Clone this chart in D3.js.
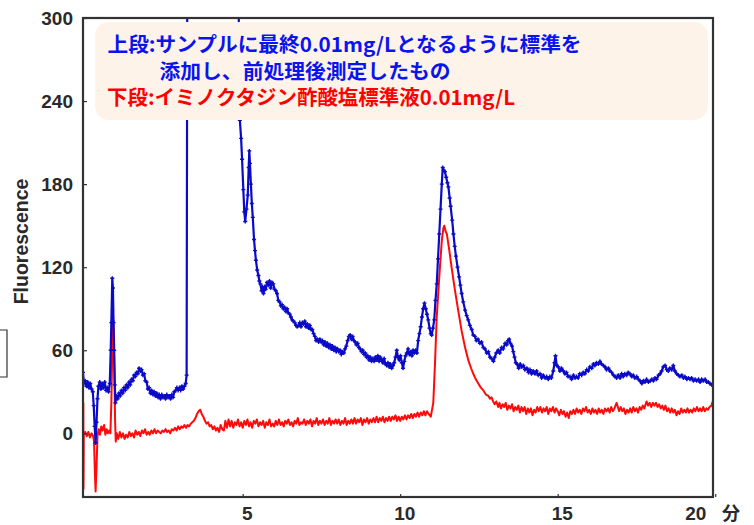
<!DOCTYPE html>
<html>
<head>
<meta charset="utf-8">
<script src="https://cdn.jsdelivr.net/npm/d3@7"></script>
<style>
  html, body { margin: 0; padding: 0; background: #fff; }
  svg { display: block; }
</style>
</head>
<body>
<svg id="chart" width="754" height="525"></svg>
<script>
// ---------------- data ----------------
const yTicks = [0, 60, 120, 180, 240, 300];
const xTicks = [5, 10, 15, 20];
const yTitle = "Fluorescence";
const xUnit = "分";
const legendLines = [
  { text: "上段:サンプルに最終0.01mg/Lとなるように標準を", series: "blue" },
  { text: "添加し、前処理後測定したもの", series: "blue" },
  { text: "下段:イミノクタジン酢酸塩標準液0.01mg/L", series: "red" }
];

// upper trace: spiked sample (time [min], fluorescence)
const blueTrace = [
  [-0.07,44],[-0.04,36],[0.0,38],[0.04,34],[0.08,37],[0.12,33],[0.16,36],[0.2,32],[0.24,30],[0.27,20],
  [0.3,5],[0.33,-7],[0.36,8],[0.39,25],[0.42,34],[0.46,37],[0.5,32],[0.54,36],[0.58,33],[0.62,37],
  [0.66,31],[0.7,33],[0.74,30],[0.78,36],[0.81,60],[0.83,80],[0.86,112],[0.88,105],[0.9,80],[0.92,60],
  [0.94,35],[0.96,22],[0.99,27],[1.03,25],[1.07,29],[1.11,27],[1.15,31],[1.19,29],[1.23,33],[1.27,31],
  [1.31,35],[1.35,33],[1.39,37],[1.43,35],[1.47,39],[1.51,38],[1.55,42],[1.59,41],[1.63,44],[1.67,43],
  [1.71,47],[1.75,45],[1.79,46],[1.83,42],[1.87,43],[1.91,38],[1.95,37],[1.99,32],[2.03,33],[2.07,29],
  [2.11,31],[2.15,28],[2.19,30],[2.23,27],[2.27,29],[2.31,26],[2.35,28],[2.39,25],[2.43,28],[2.47,26],
  [2.51,27],[2.55,25],[2.59,28],[2.63,26],[2.67,27],[2.71,25],[2.75,28],[2.79,26],[2.83,30],[2.87,31],
  [2.91,33],[2.95,31],[2.99,33],[3.03,31],[3.07,34],[3.11,32],[3.15,34],[3.19,36],[3.22,42],[3.24,330],
  [4.86,330],[4.91,226],[4.95,213],[4.98,198],[5.02,176],[5.05,160],[5.08,153],[5.12,162],[5.16,172],[5.19,192],
  [5.21,204],[5.23,195],[5.26,180],[5.29,166],[5.32,156],[5.36,140],[5.39,132],[5.42,125],[5.46,118],[5.5,114],
  [5.53,110],[5.56,108],[5.6,103],[5.63,106],[5.66,101],[5.7,106],[5.73,104],[5.77,109],[5.81,107],[5.85,110],
  [5.89,105],[5.93,109],[5.97,108],[6.01,104],[6.05,103],[6.09,101],[6.13,96],[6.17,95],[6.21,92],[6.25,93],
  [6.29,90],[6.33,91],[6.37,88],[6.41,90],[6.45,87],[6.49,86],[6.53,84],[6.57,82],[6.61,81],[6.65,80],
  [6.69,78],[6.73,77],[6.77,78],[6.81,80],[6.85,77],[6.89,80],[6.93,79],[6.97,81],[7.01,77],[7.05,79],
  [7.09,76],[7.13,78],[7.17,75],[7.21,75],[7.25,72],[7.29,70],[7.33,67],[7.37,68],[7.41,66],[7.45,68],
  [7.49,66],[7.53,67],[7.57,64],[7.61,66],[7.65,63],[7.69,65],[7.73,62],[7.77,64],[7.81,61],[7.85,63],
  [7.89,60],[7.93,62],[7.97,59],[8.01,61],[8.05,59],[8.09,60],[8.13,57],[8.17,59],[8.21,58],[8.25,61],
  [8.29,63],[8.33,67],[8.37,70],[8.41,71],[8.45,68],[8.49,70],[8.53,67],[8.57,66],[8.61,64],[8.65,65],
  [8.69,62],[8.73,61],[8.77,59],[8.81,60],[8.85,57],[8.89,58],[8.93,55],[8.97,56],[9.01,53],[9.05,55],
  [9.09,52],[9.13,54],[9.17,52],[9.21,55],[9.25,53],[9.29,56],[9.33,52],[9.37,55],[9.41,53],[9.45,51],
  [9.49,54],[9.53,50],[9.57,49],[9.61,51],[9.65,48],[9.69,50],[9.73,47],[9.77,49],[9.81,51],[9.85,55],
  [9.89,60],[9.93,55],[9.97,53],[10.01,56],[10.05,51],[10.09,47],[10.13,52],[10.17,56],[10.21,58],[10.25,61],
  [10.29,57],[10.33,59],[10.37,56],[10.41,60],[10.45,58],[10.49,60],[10.53,58],[10.57,67],[10.61,72],[10.65,77],
  [10.69,84],[10.73,90],[10.77,94],[10.81,90],[10.85,86],[10.89,82],[10.93,76],[10.97,72],[11.0,71],[11.04,76],
  [11.08,82],[11.12,96],[11.16,108],[11.2,126],[11.24,144],[11.28,162],[11.32,180],[11.35,192],[11.38,190],[11.42,189],
  [11.46,185],[11.5,181],[11.53,178],[11.57,170],[11.6,164],[11.65,154],[11.69,144],[11.73,135],[11.77,128],[11.82,120],
  [11.87,113],[11.91,107],[11.95,101],[12.0,95],[12.06,89],[12.11,85],[12.16,82],[12.21,78],[12.27,75],[12.32,71],
  [12.37,70],[12.42,67],[12.47,68],[12.53,65],[12.58,66],[12.64,62],[12.69,61],[12.75,58],[12.8,59],[12.85,55],
  [12.9,54],[12.96,52],[13.0,55],[13.05,58],[13.11,60],[13.16,58],[13.22,62],[13.27,61],[13.33,65],[13.38,64],
  [13.42,67],[13.46,68],[13.5,65],[13.55,63],[13.59,59],[13.63,55],[13.67,51],[13.71,50],[13.76,47],[13.81,50],
  [13.86,48],[13.91,49],[13.96,46],[14.02,47],[14.07,44],[14.12,46],[14.17,43],[14.22,45],[14.28,43],[14.33,45],
  [14.38,42],[14.44,43],[14.49,40],[14.54,42],[14.6,40],[14.65,41],[14.7,39],[14.75,41],[14.8,40],[14.86,45],
  [14.9,51],[14.93,56],[14.97,49],[15.02,48],[15.07,45],[15.12,47],[15.18,45],[15.23,43],[15.28,44],[15.33,41],
  [15.39,41],[15.44,39],[15.5,42],[15.55,40],[15.6,41],[15.65,40],[15.7,43],[15.76,42],[15.81,44],[15.86,43],
  [15.92,46],[15.97,45],[16.02,48],[16.08,47],[16.13,50],[16.18,49],[16.23,51],[16.29,50],[16.34,52],[16.39,50],
  [16.45,49],[16.5,48],[16.55,46],[16.61,47],[16.66,45],[16.71,44],[16.77,42],[16.82,41],[16.87,40],[16.92,42],
  [16.98,40],[17.03,43],[17.08,41],[17.13,43],[17.19,42],[17.24,44],[17.29,43],[17.35,41],[17.4,42],[17.45,40],
  [17.51,41],[17.56,39],[17.61,38],[17.67,36],[17.72,38],[17.77,37],[17.82,39],[17.88,37],[17.94,38],[17.99,39],
  [18.04,38],[18.09,40],[18.14,39],[18.2,42],[18.25,43],[18.3,45],[18.35,48],[18.41,49],[18.46,46],[18.51,45],
  [18.56,47],[18.62,46],[18.67,49],[18.72,45],[18.78,43],[18.83,42],[18.88,41],[18.94,42],[18.99,40],[19.04,41],
  [19.1,39],[19.15,40],[19.2,39],[19.25,40],[19.31,38],[19.36,39],[19.41,38],[19.47,39],[19.52,37],[19.57,39],
  [19.62,38],[19.68,39],[19.73,37],[19.78,37],[19.83,36],[19.89,35]
];

// lower trace: standard solution (time [min], fluorescence)
const redTrace = [
  [-0.06,22],[-0.055,-40],[-0.045,-1],[0.0,1],[0.05,-2],[0.1,1],[0.15,-3],[0.2,0],[0.25,-2],[0.28,-6],
  [0.31,-30],[0.33,-42],[0.36,-24],[0.39,-2],[0.43,3],[0.47,-1],[0.51,5],[0.55,2],[0.6,6],[0.64,-1],
  [0.68,3],[0.72,0],[0.76,2],[0.8,0],[0.83,22],[0.86,62],[0.89,82],[0.92,52],[0.95,8],[0.97,-6],
  [1.0,0],[1.05,-4],[1.1,1],[1.15,-3],[1.2,0],[1.25,-4],[1.3,-1],[1.35,-3],[1.4,1],[1.45,-2],
  [1.5,0],[1.55,-3],[1.6,2],[1.65,-1],[1.7,1],[1.75,-2],[1.8,2],[1.85,0],[1.9,3],[1.95,-1],
  [2.0,1],[2.05,-1],[2.1,2],[2.15,0],[2.2,3],[2.25,0],[2.3,2],[2.35,1],[2.4,0],[2.45,2],
  [2.5,1],[2.55,3],[2.6,1],[2.65,2],[2.7,0],[2.75,3],[2.8,2],[2.85,4],[2.9,2],[2.95,5],
  [3.0,3],[3.05,5],[3.1,4],[3.15,6],[3.2,4],[3.25,6],[3.3,5],[3.35,7],[3.4,8],[3.45,9],
  [3.5,11],[3.55,14],[3.6,16],[3.65,17],[3.7,14],[3.75,12],[3.8,9],[3.85,7],[3.9,8],[3.95,5],
  [4.0,6],[4.05,3],[4.1,5],[4.15,2],[4.2,4],[4.25,1],[4.3,6],[4.35,3],[4.4,2],[4.45,9],
  [4.5,4],[4.55,10],[4.6,5],[4.65,9],[4.7,4],[4.75,8],[4.8,6],[4.85,10],[4.9,5],[4.95,8],
  [5.0,4],[5.05,9],[5.1,6],[5.15,10],[5.2,5],[5.25,8],[5.3,4],[5.35,9],[5.4,7],[5.45,10],
  [5.5,5],[5.55,8],[5.6,6],[5.65,9],[5.7,4],[5.75,8],[5.8,6],[5.85,10],[5.9,5],[5.95,7],
  [6.0,5],[6.05,9],[6.1,6],[6.15,10],[6.2,6],[6.25,8],[6.3,5],[6.35,9],[6.4,7],[6.45,10],
  [6.5,6],[6.55,8],[6.6,5],[6.65,9],[6.7,7],[6.75,11],[6.8,6],[6.85,8],[6.9,7],[6.95,10],
  [7.0,6],[7.05,9],[7.1,7],[7.15,10],[7.2,5],[7.25,9],[7.3,7],[7.35,11],[7.4,6],[7.45,9],
  [7.5,7],[7.55,10],[7.6,6],[7.65,9],[7.7,7],[7.75,11],[7.8,6],[7.85,9],[7.9,7],[7.95,10],
  [8.0,7],[8.05,10],[8.1,6],[8.15,9],[8.2,7],[8.25,11],[8.3,6],[8.35,9],[8.4,7],[8.45,10],
  [8.5,7],[8.55,11],[8.6,7],[8.65,10],[8.7,8],[8.75,11],[8.8,6],[8.85,10],[8.9,8],[8.95,11],
  [9.0,7],[9.05,10],[9.1,8],[9.15,11],[9.2,8],[9.25,12],[9.3,8],[9.35,11],[9.4,9],[9.45,12],
  [9.5,8],[9.55,11],[9.6,9],[9.65,12],[9.7,9],[9.75,12],[9.8,10],[9.85,13],[9.9,9],[9.95,12],
  [10.0,9],[10.05,12],[10.1,10],[10.15,13],[10.2,10],[10.25,13],[10.3,11],[10.35,14],[10.4,11],[10.45,14],
  [10.5,12],[10.55,15],[10.6,12],[10.65,15],[10.7,13],[10.75,16],[10.8,13],[10.85,16],[10.9,14],[10.97,12],
  [11.05,22],[11.1,48],[11.16,84],[11.24,113],[11.32,139],[11.37,148],[11.4,150],[11.44,146],[11.48,144],
  [11.56,132],[11.63,120],[11.74,103],[11.84,89],[11.95,74],[12.06,62],[12.16,53],[12.25,47],[12.32,43],[12.4,39],
  [12.48,36],[12.56,33],[12.64,31],[12.72,28],[12.8,27],[12.85,25],[12.9,26],[12.95,23],[13.0,21],[13.05,23],
  [13.11,19],[13.15,22],[13.2,18],[13.25,21],[13.3,19],[13.35,22],[13.4,17],[13.45,20],[13.5,18],[13.55,21],
  [13.6,16],[13.65,19],[13.7,17],[13.75,20],[13.8,15],[13.85,19],[13.9,16],[13.95,19],[14.0,14],[14.05,18],
  [14.1,15],[14.15,18],[14.2,13],[14.25,17],[14.3,15],[14.35,19],[14.4,16],[14.45,19],[14.5,15],[14.55,18],
  [14.6,16],[14.65,19],[14.7,14],[14.75,18],[14.8,16],[14.85,19],[14.9,15],[14.95,18],[15.0,16],[15.05,13],
  [15.1,17],[15.15,14],[15.2,16],[15.25,12],[15.3,15],[15.35,11],[15.4,16],[15.45,14],[15.5,17],[15.55,14],
  [15.6,18],[15.65,15],[15.7,17],[15.75,14],[15.8,18],[15.85,16],[15.9,19],[15.95,15],[16.0,17],[16.05,14],
  [16.1,18],[16.15,15],[16.2,17],[16.25,14],[16.3,18],[16.35,15],[16.4,17],[16.45,14],[16.5,18],[16.55,16],
  [16.6,18],[16.65,15],[16.7,19],[16.75,16],[16.8,18],[16.87,22],[16.95,16],[17.0,19],[17.05,16],[17.1,18],
  [17.15,14],[17.2,17],[17.25,15],[17.3,18],[17.35,15],[17.4,19],[17.45,16],[17.5,18],[17.55,15],[17.6,19],
  [17.65,17],[17.7,20],[17.75,18],[17.82,23],[17.87,20],[17.92,22],[17.97,19],[18.02,22],[18.07,20],[18.12,22],
  [18.17,19],[18.22,21],[18.27,18],[18.32,20],[18.37,17],[18.42,20],[18.47,16],[18.52,18],[18.57,15],[18.62,18],
  [18.67,15],[18.72,17],[18.77,13],[18.82,16],[18.87,14],[18.92,18],[18.97,15],[19.02,17],[19.07,15],[19.12,18],
  [19.17,15],[19.22,17],[19.27,15],[19.32,18],[19.37,16],[19.42,19],[19.47,16],[19.52,18],[19.57,16],[19.62,19],
  [19.67,16],[19.72,18],[19.77,17],[19.82,19],[19.88,20],[19.92,23]
];

// ---------------- drawing ----------------
const svg = d3.select("#chart");
const plot = { left: 83, right: 713, top: 18, bottom: 497 };

const x = d3.scaleLinear().domain([-0.07, 19.93]).range([plot.left, plot.right]);
const y = d3.scaleLinear().domain([-46, 300]).range([plot.bottom, plot.top]);

svg.append("defs").append("clipPath").attr("id", "plotclip")
  .append("rect")
  .attr("x", plot.left).attr("y", plot.top)
  .attr("width", plot.right - plot.left).attr("height", plot.bottom - plot.top);

const line = d3.line().x(d => x(d[0])).y(d => y(d[1]));

const blueColor = "#0a0ac8";
const redColor = "#ff0a0a";

const traces = svg.append("g").attr("clip-path", "url(#plotclip)");
traces.append("path").datum(redTrace)
  .attr("d", line).attr("fill", "none")
  .attr("stroke", redColor).attr("stroke-width", 2).attr("stroke-linejoin", "round");
traces.append("path").datum(blueTrace)
  .attr("d", line).attr("fill", "none")
  .attr("stroke", blueColor).attr("stroke-width", 2.2).attr("stroke-linejoin", "round");
// small cross markers on every sample of the upper trace
const cross = d3.symbol().type(d3.symbolCross).size(9);
traces.append("g").selectAll("path")
  .data(blueTrace.filter(d => d[1] < 300))
  .join("path")
  .attr("transform", d => `translate(${x(d[0])},${y(d[1])})`)
  .attr("d", cross)
  .attr("fill", blueColor);

// legend box
const legend = svg.append("g");
legend.append("rect")
  .attr("x", 95).attr("y", 22).attr("width", 613).attr("height", 98)
  .attr("rx", 14).attr("ry", 14)
  .attr("fill", "#fef3e9");
const legendPos = [
  { x: 107.5, y: 43, len: 474 },
  { x: 159.5, y: 70, len: 291 },
  { x: 107, y: 96.5, len: 408 }
];
legend.selectAll("text").data(legendLines).join("text")
  .attr("x", (d, i) => legendPos[i].x)
  .attr("y", (d, i) => legendPos[i].y)
  .attr("dominant-baseline", "central")
  .attr("textLength", (d, i) => legendPos[i].len)
  .attr("lengthAdjust", "spacingAndGlyphs")
  .attr("font-family", "'Noto Sans CJK JP', sans-serif")
  .attr("font-weight", 700)
  .attr("font-size", 20)
  .attr("fill", d => d.series === "blue" ? "#0a14f0" : "#ff0000")
  .text(d => d.text);

// axes
const yAxis = d3.axisLeft(y).tickValues(yTicks).tickSize(-4).tickPadding(10);
const gy = svg.append("g").attr("transform", `translate(${plot.left},0)`).call(yAxis);
gy.select(".domain").remove();
gy.selectAll(".tick line").attr("stroke", "#333").attr("stroke-width", 1.2);
gy.selectAll(".tick text")
  .attr("font-family", "'Liberation Sans', Arial, sans-serif")
  .attr("font-weight", 700).attr("font-size", 19).attr("fill", "#2a2a2a");

const xAxis = d3.axisBottom(x).tickValues(xTicks).tickSize(-3).tickPadding(10);
const gx = svg.append("g").attr("transform", `translate(0,${plot.bottom})`).call(xAxis);
gx.select(".domain").remove();
gx.selectAll(".tick line").attr("stroke", "#333").attr("stroke-width", 1.2);
gx.selectAll(".tick text")
  .attr("font-family", "'Liberation Sans', Arial, sans-serif")
  .attr("font-weight", 700).attr("font-size", 19).attr("fill", "#2a2a2a")
  .attr("dx", d => d === 20 ? -20 : 4);

// frame
svg.append("rect")
  .attr("x", plot.left).attr("y", plot.top)
  .attr("width", plot.right - plot.left).attr("height", plot.bottom - plot.top)
  .attr("fill", "none").attr("stroke", "#333").attr("stroke-width", 2.2);

// axis titles
svg.append("text")
  .attr("transform", "translate(20.5,241.5) rotate(-90)")
  .attr("text-anchor", "middle").attr("dominant-baseline", "central")
  .attr("font-family", "'Liberation Sans', Arial, sans-serif")
  .attr("font-weight", 700).attr("font-size", 19.5).attr("fill", "#2a2a2a")
  .text(yTitle);

svg.append("text")
  .attr("x", 731).attr("y", 512)
  .attr("text-anchor", "middle").attr("dominant-baseline", "central")
  .attr("font-family", "'Noto Sans CJK JP', sans-serif")
  .attr("font-weight", 700).attr("font-size", 18).attr("fill", "#2a2a2a")
  .text(xUnit);

// cropped bracket at the left edge
svg.append("path")
  .attr("d", "M0,330H7V377H0")
  .attr("fill", "none").attr("stroke", "#333").attr("stroke-width", 1.2);
</script>
</body>
</html>
